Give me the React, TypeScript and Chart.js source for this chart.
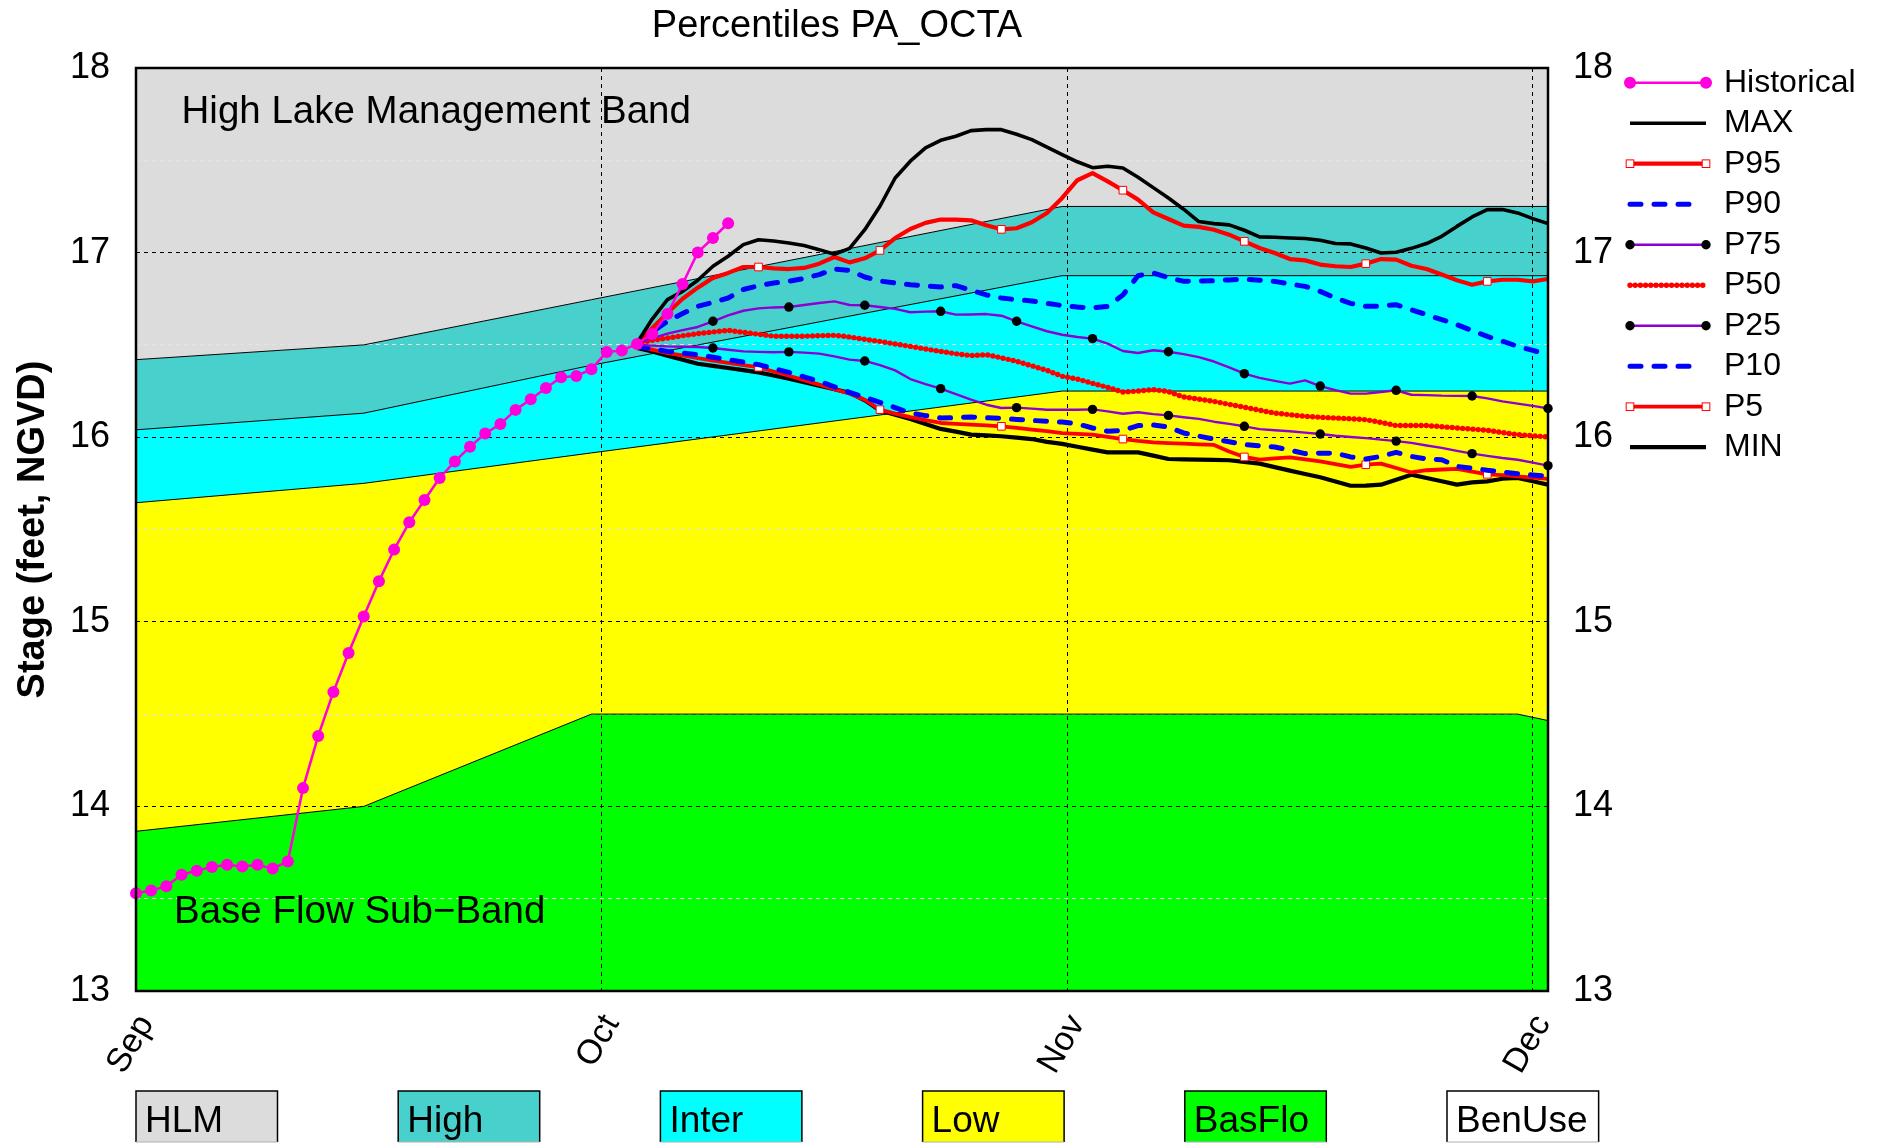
import React, { useEffect, useRef } from 'react';
import { Chart, registerables } from 'chart.js';

Chart.register(...registerables);

const FONT = '"Liberation Sans", Arial, Helvetica, sans-serif';

// ---------- axis categories ----------
const monthLabels = ['Sep', 'Oct', 'Nov', 'Dec'];
const monthTickDays = [0, 30.67, 61.33, 92];

// ---------- operating bands (lower limit of each band, day 0 = Sep 1) ----------
const bandDays = [0, 15, 30, 61, 91, 93];
const hlmBottom = [16.42, 16.5, 16.745, 17.25, 17.25, 17.25];
const highBottom = [16.04, 16.13, 16.39, 16.875, 16.875, 16.875];
const interBottom = [15.645, 15.75, 15.915, 16.25, 16.25, 16.25];
const lowBottom = [13.865, 14.0, 14.5, 14.5, 14.5, 14.465];

// ---------- historical stage ----------
const histDays = [0, 1, 2, 3, 4, 5, 6, 7, 8, 9, 10, 11, 12, 13, 14, 15, 16, 17, 18, 19,
  20, 21, 22, 23, 24, 25, 26, 27, 28, 29, 30, 31, 32, 33, 34, 35, 36, 37, 38, 39];
const histStage = [13.529, 13.544, 13.567, 13.63, 13.652, 13.672, 13.684, 13.675, 13.684, 13.663,
  13.702, 14.099, 14.382, 14.62, 14.831, 15.029, 15.22, 15.391, 15.539, 15.66,
  15.779, 15.869, 15.948, 16.02, 16.071, 16.148, 16.206, 16.267, 16.325, 16.332,
  16.368, 16.462, 16.469, 16.505, 16.559, 16.668, 16.83, 17.001, 17.079, 17.159];

// ---------- percentile forecasts ----------
const pctDays = [33, 34, 35, 36, 37, 38, 39, 40, 41, 42, 43, 44, 45, 46, 47, 48, 49, 50, 51, 52,
  53, 54, 55, 56, 57, 58, 59, 60, 61, 62, 63, 64, 65, 66, 67, 68, 69, 70, 71, 72,
  73, 74, 75, 76, 77, 78, 79, 80, 81, 82, 83, 84, 85, 86, 87, 88, 89, 90, 91, 92, 93];

const maxStage = [16.51, 16.64, 16.745, 16.79, 16.85, 16.926, 16.98, 17.043, 17.07, 17.063,
  17.052, 17.038, 17.016, 16.991, 17.023, 17.124, 17.251, 17.404, 17.495, 17.567,
  17.608, 17.63, 17.661, 17.666, 17.666, 17.641, 17.612, 17.572, 17.531, 17.492,
  17.46, 17.468, 17.458, 17.408, 17.352, 17.296, 17.235, 17.168, 17.157, 17.15,
  17.121, 17.085, 17.083, 17.079, 17.076, 17.067, 17.049, 17.047, 17.025, 16.998,
  17.002, 17.023, 17.049, 17.088, 17.142, 17.193, 17.233, 17.233, 17.215, 17.184, 17.157];

const p95Stage = [16.51, 16.59, 16.673, 16.75, 16.81, 16.863, 16.89, 16.922, 16.922, 16.915,
  16.911, 16.917, 16.94, 16.976, 16.947, 16.969, 17.012, 17.079, 17.128, 17.161,
  17.179, 17.179, 17.175, 17.148, 17.126, 17.132, 17.164, 17.215, 17.296, 17.392,
  17.431, 17.386, 17.338, 17.287, 17.218, 17.182, 17.146, 17.139, 17.124, 17.097,
  17.061, 17.025, 16.998, 16.965, 16.958, 16.935, 16.926, 16.922, 16.94, 16.965,
  16.962, 16.929, 16.911, 16.881, 16.85, 16.826, 16.844, 16.853, 16.853, 16.844, 16.857];

const p90Stage = [16.51, 16.57, 16.628, 16.67, 16.709, 16.73, 16.754, 16.8, 16.821, 16.835,
  16.845, 16.86, 16.881, 16.911, 16.904, 16.868, 16.846, 16.835, 16.826, 16.82,
  16.814, 16.821, 16.796, 16.771, 16.754, 16.745, 16.738, 16.725, 16.713, 16.705,
  16.7, 16.709, 16.77, 16.875, 16.89, 16.863, 16.845, 16.846, 16.848, 16.852,
  16.857, 16.85, 16.844, 16.83, 16.817, 16.79, 16.754, 16.725, 16.709, 16.71,
  16.718, 16.69, 16.664, 16.637, 16.61, 16.578, 16.546, 16.52, 16.492, 16.47, 16.447];

const p75Stage = [16.51, 16.535, 16.561, 16.58, 16.597, 16.628, 16.66, 16.685, 16.698, 16.703,
  16.705, 16.716, 16.727, 16.736, 16.716, 16.715, 16.705, 16.695, 16.677, 16.68,
  16.682, 16.664, 16.665, 16.667, 16.658, 16.628, 16.6, 16.574, 16.555, 16.543,
  16.534, 16.507, 16.467, 16.456, 16.471, 16.463, 16.45, 16.434, 16.41, 16.378,
  16.344, 16.321, 16.305, 16.29, 16.308, 16.277, 16.255, 16.236, 16.236, 16.245,
  16.254, 16.23, 16.228, 16.225, 16.224, 16.223, 16.21, 16.194, 16.182, 16.17, 16.156];

const p50Stage = [16.51, 16.525, 16.537, 16.55, 16.561, 16.57, 16.579, 16.568, 16.558, 16.547,
  16.547, 16.547, 16.55, 16.552, 16.543, 16.53, 16.519, 16.505, 16.492, 16.478,
  16.465, 16.452, 16.442, 16.447, 16.43, 16.411, 16.387, 16.362, 16.33, 16.315,
  16.292, 16.27, 16.245, 16.25, 16.258, 16.247, 16.218, 16.206, 16.194, 16.178,
  16.162, 16.146, 16.131, 16.122, 16.113, 16.108, 16.104, 16.1, 16.095, 16.08,
  16.063, 16.063, 16.063, 16.057, 16.05, 16.044, 16.037, 16.025, 16.014, 16.008, 16.001];

const p25Stage = [16.501, 16.496, 16.492, 16.49, 16.489, 16.483, 16.474, 16.465, 16.462, 16.46,
  16.462, 16.458, 16.453, 16.438, 16.42, 16.413, 16.39, 16.362, 16.315, 16.288,
  16.263, 16.233, 16.203, 16.176, 16.158, 16.16, 16.155, 16.149, 16.149, 16.149,
  16.151, 16.14, 16.127, 16.135, 16.125, 16.118, 16.108, 16.099, 16.084, 16.072,
  16.059, 16.044, 16.038, 16.032, 16.025, 16.017, 16.008, 16.001, 15.995, 15.987,
  15.979, 15.969, 15.955, 15.942, 15.926, 15.911, 15.899, 15.887, 15.878, 15.862, 15.846];

const p10Stage = [16.492, 16.478, 16.465, 16.456, 16.447, 16.433, 16.42, 16.407, 16.393, 16.372,
  16.351, 16.327, 16.303, 16.273, 16.243, 16.216, 16.189, 16.16, 16.131, 16.117,
  16.104, 16.106, 16.109, 16.105, 16.102, 16.096, 16.091, 16.086, 16.082, 16.072,
  16.05, 16.032, 16.037, 16.063, 16.066, 16.055, 16.023, 16.006, 15.99, 15.975,
  15.96, 15.953, 15.947, 15.93, 15.911, 15.913, 15.914, 15.893, 15.882, 15.896,
  15.918, 15.896, 15.882, 15.878, 15.842, 15.832, 15.821, 15.812, 15.802, 15.795, 15.788];

const p5Stage = [16.492, 16.474, 16.456, 16.443, 16.429, 16.415, 16.402, 16.39, 16.379, 16.356,
  16.333, 16.309, 16.285, 16.26, 16.236, 16.203, 16.149, 16.128, 16.109, 16.093,
  16.077, 16.072, 16.068, 16.064, 16.059, 16.05, 16.041, 16.033, 16.022, 16.018,
  16.014, 16.002, 15.99, 15.98, 15.972, 15.968, 15.965, 15.961, 15.958, 15.923,
  15.893, 15.878, 15.885, 15.891, 15.88, 15.869, 15.854, 15.839, 15.851, 15.857,
  15.833, 15.809, 15.821, 15.825, 15.828, 15.813, 15.799, 15.794, 15.788, 15.781, 15.774];

const minStage = [16.483, 16.465, 16.442, 16.42, 16.398, 16.386, 16.375, 16.363, 16.351, 16.334,
  16.317, 16.298, 16.279, 16.26, 16.24, 16.2, 16.145, 16.122, 16.099, 16.072,
  16.045, 16.03, 16.014, 16.01, 16.005, 15.998, 15.99, 15.975, 15.964, 15.948,
  15.933, 15.918, 15.918, 15.918, 15.9, 15.882, 15.88, 15.878, 15.877, 15.875,
  15.866, 15.857, 15.838, 15.819, 15.801, 15.783, 15.76, 15.737, 15.738, 15.743,
  15.77, 15.797, 15.779, 15.761, 15.743, 15.755, 15.761, 15.775, 15.779, 15.761, 15.743];

const squareMarkerDays = [41, 49, 57, 65, 73, 81, 89];
const dotMarkerDays = [38, 43, 48, 53, 58, 63, 68, 73, 78, 83, 88, 93];

// ---------- legends ----------
const seriesLegend = ['Historical', 'MAX', 'P95', 'P90', 'P75', 'P50', 'P25', 'P10', 'P5', 'MIN'];
const bandLegendLabels = ['HLM', 'High', 'Inter', 'Low', 'BasFlo', 'BenUse'];

const BAND_COLORS: any = {
  HLM: '#dcdcdc', High: '#48d1cc', Inter: '#00ffff', Low: '#ffff00', BasFlo: '#00ff00', BenUse: '#ffffff',
};

const STYLES: any = {
  Historical: { color: '#ff00dd', width: 2.5, marker: 'circle', markerSize: 6, markerFill: '#ff00dd' },
  MAX: { color: '#000000', width: 3.6 },
  P95: { color: '#ff0000', width: 4.2, marker: 'rect', markerSize: 5.4 },
  P90: { color: '#0000ff', width: 5, dash: [11, 13], cap: 'round' },
  P75: { color: '#8c00d4', width: 2.4, marker: 'circle', markerSize: 4.7, markerFill: '#000000' },
  P50: { color: '#ff0000', width: 5.4, dash: [0, 5.2], cap: 'round' },
  P25: { color: '#8c00d4', width: 2.4, marker: 'circle', markerSize: 4.7, markerFill: '#000000' },
  P10: { color: '#0000ff', width: 5, dash: [11, 13], cap: 'round' },
  P5: { color: '#ff0000', width: 3.8, marker: 'rect', markerSize: 5.4 },
  MIN: { color: '#000000', width: 4.2 },
};

export default function App() {
  const canvasRef = useRef<HTMLCanvasElement | null>(null);

  useEffect(() => {
    const canvas = canvasRef.current;
    if (!canvas) return;

    const xy = (days: number[], vals: number[]) => vals.map((v, i) => ({ x: days[i], y: v }));

    const bandDataset = (label: string, vals: number[], color: string, fill: any, border = true) => ({
      label,
      data: xy(bandDays, vals),
      yAxisID: 'y',
      order: 100,
      borderColor: border ? '#000000' : 'rgba(0,0,0,0)',
      borderWidth: 1,
      backgroundColor: color,
      fill,
      tension: 0,
      pointRadius: 0,
      pointHoverRadius: 0,
    });

    const markerRadius = (days: number[], r: number) => (c: any) =>
      c && c.raw && days.includes(c.raw.x) ? r : 0;

    const seriesDataset = (key: string, days: number[], vals: number[], order: number, markerDays?: number[]) => {
      const st = STYLES[key];
      const ds: any = {
        label: key,
        data: xy(days, vals),
        yAxisID: 'y',
        order,
        borderColor: st.color,
        borderWidth: st.width,
        borderDash: st.dash || [],
        borderCapStyle: st.cap || 'butt',
        borderJoinStyle: 'round',
        fill: false,
        tension: 0,
        pointRadius: 0,
        pointHoverRadius: 0,
      };
      if (st.marker === 'circle') {
        ds.pointStyle = 'circle';
        ds.pointRadius = markerDays ? markerRadius(markerDays, st.markerSize) : st.markerSize;
        ds.pointBackgroundColor = st.markerFill;
        ds.pointBorderColor = st.markerFill;
        ds.pointBorderWidth = 0;
        ds.clip = false;
      } else if (st.marker === 'rect') {
        ds.pointStyle = 'rect';
        ds.pointRadius = markerRadius(markerDays || [], st.markerSize);
        ds.pointBackgroundColor = '#ffffff';
        ds.pointBorderColor = st.color;
        ds.pointBorderWidth = 1;
      }
      return ds;
    };

    // Series first, bands afterwards (a fill target at dataset index 0 is ignored by the filler).
    const datasets: any[] = [
      seriesDataset('Historical', histDays, histStage, 1),
      seriesDataset('MAX', pctDays, maxStage, 2),
      seriesDataset('P95', pctDays, p95Stage, 3, squareMarkerDays),
      seriesDataset('P90', pctDays, p90Stage, 4),
      seriesDataset('P75', pctDays, p75Stage, 5, dotMarkerDays),
      seriesDataset('P50', pctDays, p50Stage, 6),
      seriesDataset('P25', pctDays, p25Stage, 7, dotMarkerDays),
      seriesDataset('P10', pctDays, p10Stage, 8),
      seriesDataset('P5', pctDays, p5Stage, 9, squareMarkerDays),
      seriesDataset('MIN', pctDays, minStage, 10),
      bandDataset('HLM', hlmBottom, BAND_COLORS.HLM, 'end'),
      bandDataset('High', highBottom, BAND_COLORS.High, '-1'),
      bandDataset('Inter', interBottom, BAND_COLORS.Inter, '-1'),
      bandDataset('Low', lowBottom, BAND_COLORS.Low, '-1'),
      bandDataset('BasFlo', lowBottom, BAND_COLORS.BasFlo, 'start', false),
    ];

    const decor = {
      id: 'decor',
      beforeDatasetsDraw(chart: any) {
        const { ctx, scales } = chart;
        const sx = scales.x;
        const sy = scales.y;
        ctx.save();
        ctx.fillStyle = '#000';
        ctx.textAlign = 'left';
        ctx.textBaseline = 'alphabetic';
        ctx.font = `38.5px ${FONT}`;
        ctx.fillText('High Lake Management Band', sx.getPixelForValue(3.0), sy.getPixelForValue(17.70));
        ctx.fillText('Base Flow Sub\u2212Band', sx.getPixelForValue(2.5), sy.getPixelForValue(13.37));
        ctx.restore();
      },
      afterDraw(chart: any) {
        const { ctx, chartArea: a } = chart;
        ctx.save();
        // plot frame
        ctx.setLineDash([]);
        ctx.strokeStyle = '#000';
        ctx.lineWidth = 2.5;
        ctx.strokeRect(a.left, a.top, a.right - a.left, a.bottom - a.top);

        // title
        ctx.fillStyle = '#000';
        ctx.font = `38px ${FONT}`;
        ctx.textAlign = 'center';
        ctx.textBaseline = 'alphabetic';
        ctx.fillText('Percentiles PA_OCTA', (a.left + a.right) / 2 - 5, 37);

        // right legend
        const rowY0 = 82.7;
        const rowStep = 40.5;
        seriesLegend.forEach((key, i) => {
          const st = STYLES[key];
          const y = rowY0 + i * rowStep;
          const x1 = 1630;
          const x2 = st.dash && st.dash[0] > 1 ? 1692 : 1706;
          ctx.save();
          ctx.strokeStyle = st.color;
          ctx.lineWidth = st.width;
          ctx.lineCap = st.cap || 'butt';
          ctx.setLineDash(st.dash || []);
          ctx.beginPath();
          ctx.moveTo(x1, y);
          ctx.lineTo(x2, y);
          ctx.stroke();
          ctx.setLineDash([]);
          if (st.marker === 'circle') {
            [x1, x2].forEach((mx) => {
              ctx.beginPath();
              ctx.arc(mx, y, st.markerSize, 0, Math.PI * 2);
              ctx.fillStyle = st.markerFill;
              ctx.fill();
            });
          } else if (st.marker === 'rect') {
            const s = st.markerSize * Math.SQRT2;
            [x1, x2].forEach((mx) => {
              ctx.fillStyle = '#fff';
              ctx.fillRect(mx - s / 2, y - s / 2, s, s);
              ctx.strokeStyle = st.color;
              ctx.lineWidth = 1;
              ctx.strokeRect(mx - s / 2, y - s / 2, s, s);
            });
          }
          ctx.restore();
          ctx.fillStyle = '#000';
          ctx.font = `32px ${FONT}`;
          ctx.textAlign = 'left';
          ctx.textBaseline = 'middle';
          ctx.fillText(key, 1724, y);
        });

        // band legend boxes along the bottom
        const boxTop = 1091;
        const boxBottom = 1142;
        const boxStep = 262.2;
        bandLegendLabels.forEach((lab, i) => {
          const left = a.left + i * boxStep;
          ctx.font = `37px ${FONT}`;
          const tw = ctx.measureText(lab).width;
          const w = Math.max(141.5, tw + 20);
          ctx.fillStyle = BAND_COLORS[lab];
          ctx.fillRect(left, boxTop, w, boxBottom - boxTop);
          ctx.strokeStyle = '#000';
          ctx.lineWidth = 1.5;
          ctx.beginPath();
          ctx.moveTo(left, boxBottom);
          ctx.lineTo(left, boxTop);
          ctx.lineTo(left + w, boxTop);
          ctx.lineTo(left + w, boxBottom);
          ctx.stroke();
          ctx.strokeStyle = '#b0b0b0';
          ctx.lineWidth = 1;
          ctx.beginPath();
          ctx.moveTo(left, boxBottom);
          ctx.lineTo(left + w, boxBottom);
          ctx.stroke();
          ctx.fillStyle = '#000';
          ctx.textAlign = 'left';
          ctx.textBaseline = 'alphabetic';
          ctx.fillText(lab, left + 9, 1131.5);
        });
        ctx.restore();
      },
    };

    const chart = new Chart(canvas, {
      type: 'line',
      data: { datasets },
      plugins: [decor],
      options: {
        responsive: false,
        animation: false,
        devicePixelRatio: 1,
        events: [],
        layout: { padding: { top: 68, left: 0, right: 0, bottom: 0 } },
        plugins: {
          legend: { display: false },
          tooltip: { enabled: false },
          title: { display: false },
          filler: { drawTime: 'beforeDraw', propagate: false },
        },
        scales: {
          x: {
            type: 'linear',
            position: 'bottom',
            min: 0,
            max: 93,
            afterBuildTicks: (s: any) => {
              s.ticks = monthTickDays.map((v) => ({ value: v }));
            },
            afterFit: (s: any) => {
              s.height = 153;
            },
            ticks: {
              autoSkip: false,
              minRotation: 60,
              maxRotation: 60,
              padding: 17,
              labelOffset: 10,
              color: '#000',
              font: { family: FONT, size: 34 },
              callback: (_v: any, i: number) => monthLabels[i],
            },
            grid: { color: '#000', lineWidth: 1, drawTicks: false },
            border: { display: false, dash: [4, 4] },
          },
          y: {
            type: 'linear',
            position: 'left',
            min: 13,
            max: 18,
            afterFit: (s: any) => {
              s.width = 136;
            },
            ticks: {
              stepSize: 0.5,
              autoSkip: false,
              padding: 26,
              color: '#000',
              font: { family: FONT, size: 36 },
              callback: (v: any) => (Number.isInteger(v) ? String(v) : ''),
            },
            grid: {
              drawTicks: false,
              lineWidth: 1,
              color: (c: any) => (c.tick && Number.isInteger(c.tick.value) ? '#000000' : '#e4e4e4'),
            },
            border: { display: false, dash: [4, 4] },
            title: {
              display: true,
              text: 'Stage (feet, NGVD)',
              color: '#000',
              font: { family: FONT, size: 38, weight: 'bold' },
              padding: { top: 11, bottom: 0 },
            },
          },
          y2: {
            type: 'linear',
            position: 'right',
            min: 13,
            max: 18,
            afterFit: (s: any) => {
              s.width = 333;
            },
            ticks: {
              stepSize: 1,
              padding: 25,
              color: '#000',
              font: { family: FONT, size: 36 },
            },
            grid: { display: false, drawTicks: false },
            border: { display: false },
          },
        },
      } as any,
    });

    return () => {
      chart.destroy();
    };
  }, []);

  return (
    <div style={{ position: 'absolute', left: 0, top: 0, width: 1881, height: 1144, background: '#ffffff' }}>
      <canvas ref={canvasRef} width={1881} height={1144} style={{ display: 'block', width: 1881, height: 1144 }} />
    </div>
  );
}
